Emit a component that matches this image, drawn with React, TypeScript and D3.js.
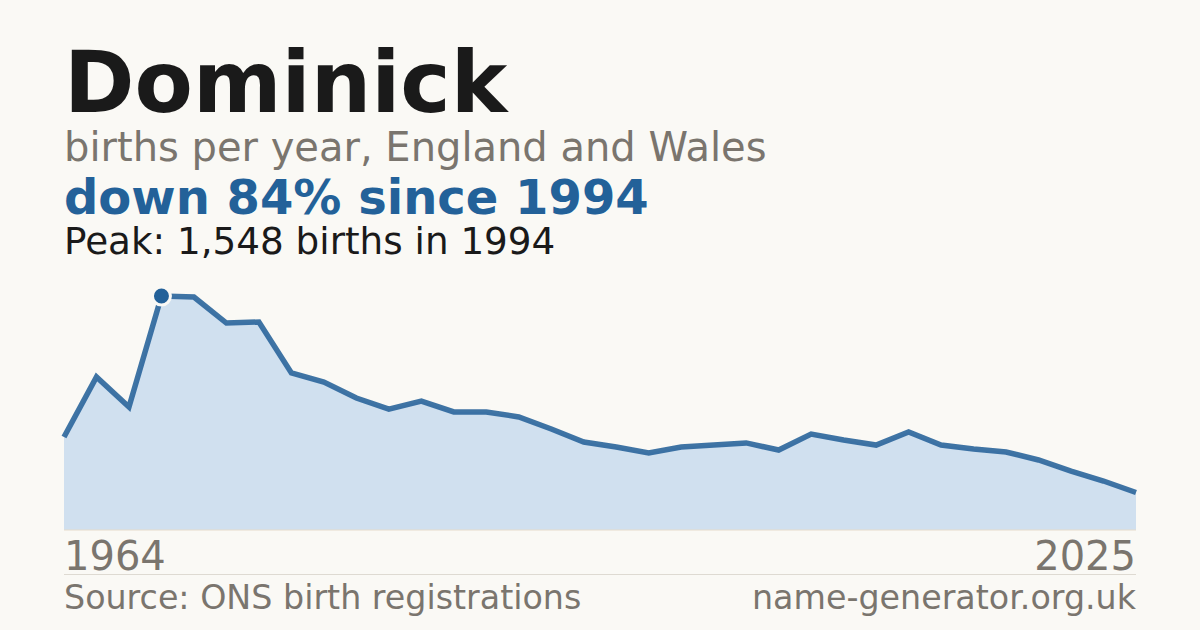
import * as d3 from "d3";

const YEARS: number[] = [
  1964, 1974, 1984, 1994, 1996, 1997, 1998, 1999, 2000, 2001, 2002, 2003,
  2004, 2005, 2006, 2007, 2008, 2009, 2010, 2011, 2012, 2013, 2014, 2015,
  2016, 2017, 2018, 2019, 2020, 2021, 2022, 2023, 2024, 2025,
];
const BIRTHS: number[] = [
  615, 1012, 814, 1548, 1541, 1369, 1376, 1039, 979, 873, 800, 853,
  781, 781, 748, 668, 582, 549, 509, 549, 562, 576, 529, 635,
  595, 562, 648, 562, 536, 516, 463, 390, 324, 248,
];

const NAME = "Dominick";
const SUBTITLE = "births per year, England and Wales";
const HEADLINE = "down 84% since 1994";
const PEAK_NOTE = "Peak: 1,548 births in 1994";
const SOURCE = "Source: ONS birth registrations";
const SITE = "name-generator.org.uk";

const W = 1200;
const H = 630;
const LEFT = 64;
const RIGHT = 1136;
const FONT = "'DejaVu Sans', sans-serif";
const GREY = "#7a756e";
const BLUE = "#236199";

export default function App() {
  const x = d3.scalePoint<number>().domain(YEARS).range([LEFT, RIGHT]);
  const y = d3.scaleLinear().domain([0, d3.max(BIRTHS) ?? 1]).range([530, 296]);

  const pts = YEARS.map((yr, i) => ({ yr, v: BIRTHS[i] }));
  const area = d3.area<{ yr: number; v: number }>()
    .x((d) => x(d.yr) ?? 0)
    .y0(y(0))
    .y1((d) => y(d.v));
  const line = d3.line<{ yr: number; v: number }>()
    .x((d) => x(d.yr) ?? 0)
    .y((d) => y(d.v));

  const peakIdx = BIRTHS.indexOf(d3.max(BIRTHS) ?? 0);
  const peak = pts[peakIdx];

  return (
    <svg width={W} height={H} style={{ display: "block", position: "absolute", left: 0, top: 0 }}>
      <rect width={W} height={H} fill="#faf9f5" />

      <text x={LEFT} y={112} fontFamily={FONT} fontWeight={700} fontSize={85} fill="#1a1a1a">{NAME}</text>
      <text x={LEFT} y={161} fontFamily={FONT} fontSize={40} fill={GREY}>{SUBTITLE}</text>
      <text x={LEFT} y={214} fontFamily={FONT} fontWeight={700} fontSize={48} fill={BLUE}>{HEADLINE}</text>
      <text x={LEFT} y={254} fontFamily={FONT} fontSize={37.3} fill="#1a1a1a">{PEAK_NOTE}</text>

      {/* Area + line */}
      <path d={area(pts) ?? ""} fill="#d0e0ef" />
      <line x1={LEFT} x2={RIGHT} y1={y(0)} y2={y(0)} stroke="#e6dccb" strokeWidth={1} />
      <path d={line(pts) ?? ""} fill="none" stroke="#2a659b" strokeWidth={5.5} strokeOpacity={0.9} />

      {/* Peak marker */}
      <circle cx={x(peak.yr)} cy={y(peak.v)} r={9} fill={BLUE} stroke="#faf9f5" strokeWidth={3} />

      {/* Year labels */}
      <text x={LEFT} y={570} fontFamily={FONT} fontSize={40} fill={GREY}>{YEARS[0]}</text>
      <text x={RIGHT} y={570} textAnchor="end" fontFamily={FONT} fontSize={40} fill={GREY}>{YEARS[YEARS.length - 1]}</text>

      <line x1={LEFT} x2={RIGHT} y1={574.5} y2={574.5} stroke="#dedad2" strokeWidth={1} />

      <text x={LEFT} y={609} fontFamily={FONT} fontSize={33.3} fill={GREY}>{SOURCE}</text>
      <text x={RIGHT} y={609} textAnchor="end" fontFamily={FONT} fontSize={33.3} fill={GREY}>{SITE}</text>
    </svg>
  );
}
